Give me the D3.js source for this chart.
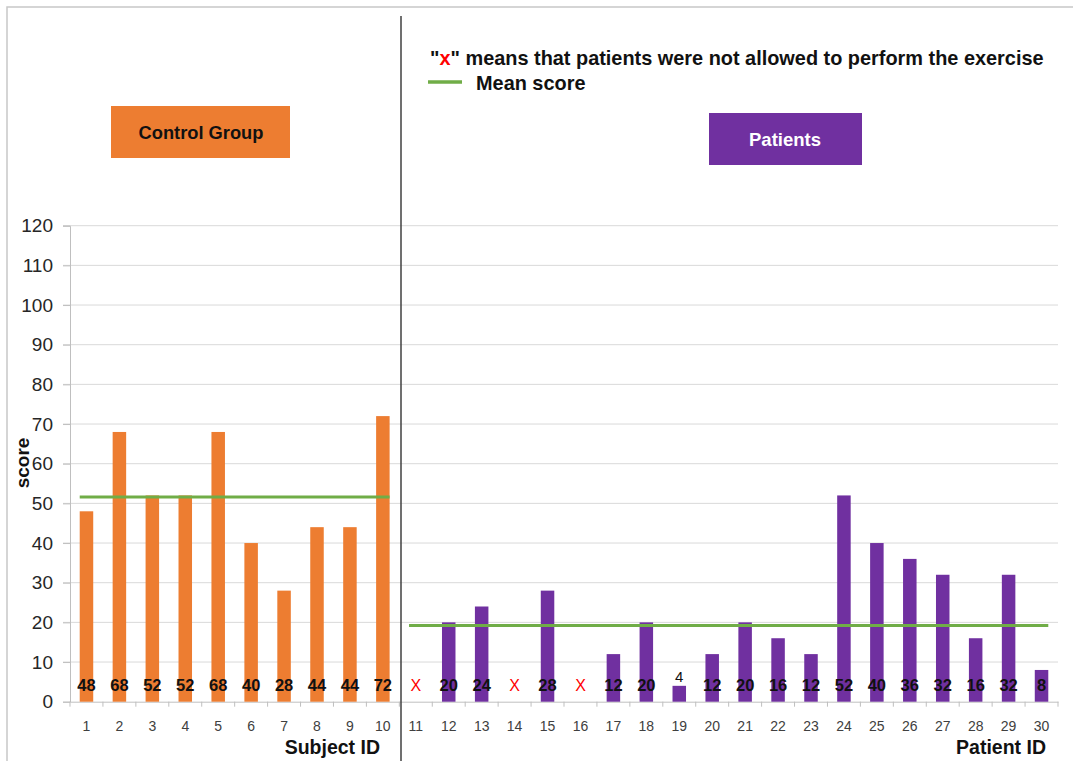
<!DOCTYPE html>
<html>
<head>
<meta charset="utf-8">
<script src="https://cdn.jsdelivr.net/npm/d3@7"></script>
<style>
  body { margin: 0; background: #fff; }
  svg { display: block; font-family: "Liberation Sans", Arial, sans-serif; }
</style>
</head>
<body>
<svg id="chart" width="1073" height="761"></svg>
<script>
// Scores per participant; null = exercise not performed ("x")
const controlIds = ["1","2","3","4","5","6","7","8","9","10"];
const controlScores = [48, 68, 52, 52, 68, 40, 28, 44, 44, 72];
const patientIds = ["11","12","13","14","15","16","17","18","19","20",
                    "21","22","23","24","25","26","27","28","29","30"];
const patientScores = [null, 20, 24, null, 28, null, 12, 20, 4, 12,
                       20, 16, 12, 52, 40, 36, 32, 16, 32, 8];
const controlMean = 51.6;
const patientMean = 19.2;
const yTicks = [0, 10, 20, 30, 40, 50, 60, 70, 80, 90, 100, 110, 120];

const ORANGE = "#ED7D31", PURPLE = "#7030A0", GREEN = "#70AD47";

const svg = d3.select("#chart");
const plot = { left: 70, right: 1058, top: 225.7, bottom: 701.7 };

const allIds = controlIds.concat(patientIds);
const x = d3.scaleBand().domain(allIds).range([plot.left, plot.right]).padding(0);
const y = d3.scaleLinear().domain([0, 120]).range([plot.bottom, plot.top]);
const barW = x.bandwidth() * 0.41;

// outer frame (top and left)
svg.append("path")
  .attr("d", "M7,761 V7 H1073")
  .attr("fill", "none").attr("stroke", "#c8c8c8").attr("stroke-width", 1.5);

// horizontal gridlines
svg.append("g").selectAll("line").data(yTicks.filter(d => d > 0)).join("line")
  .attr("x1", plot.left - 7).attr("x2", plot.right)
  .attr("y1", d => y(d)).attr("y2", d => y(d))
  .attr("stroke", "#d9d9d9").attr("stroke-width", 1);

// y axis
const yAxis = svg.append("g").attr("transform", `translate(${plot.left},0)`)
  .call(d3.axisLeft(y).tickValues(yTicks).tickSize(7).tickPadding(10));
yAxis.select(".domain").attr("stroke", "#bfbfbf");
yAxis.selectAll(".tick line").attr("stroke", "#bfbfbf");
yAxis.selectAll(".tick text").attr("font-size", 19).attr("fill", "#262626")
  .attr("font-family", "Liberation Sans, Arial, sans-serif");

// x axis with tick marks between categories
const xAxis = svg.append("g").attr("transform", `translate(0,${plot.bottom})`)
  .call(d3.axisBottom(x).tickSize(0).tickPadding(19));
xAxis.select(".domain").attr("stroke", "#bfbfbf");
xAxis.selectAll(".tick text").attr("font-size", 14).attr("fill", "#404040")
  .attr("font-family", "Liberation Sans, Arial, sans-serif");
xAxis.append("g").selectAll("line").data(allIds.concat(["end"])).join("line")
  .attr("x1", (d, i) => plot.left + i * x.step()).attr("x2", (d, i) => plot.left + i * x.step())
  .attr("y1", 0).attr("y2", 5).attr("stroke", "#bfbfbf");

// bars
const controlData = controlIds.map((id, i) => ({ id, v: controlScores[i] }));
const patientData = patientIds.map((id, i) => ({ id, v: patientScores[i] }));

function drawBars(data, color) {
  svg.append("g").selectAll("rect").data(data.filter(d => d.v !== null)).join("rect")
    .attr("x", d => x(d.id) + x.bandwidth() / 2 - barW / 2)
    .attr("width", barW)
    .attr("y", d => y(d.v))
    .attr("height", d => y(0) - y(d.v))
    .attr("fill", color);
}
drawBars(controlData, ORANGE);
drawBars(patientData, PURPLE);

// mean lines spanning each group
function meanLine(ids, m) {
  const x1 = x(ids[0]) + x.bandwidth() / 2 - barW / 2;
  const x2 = x(ids[ids.length - 1]) + x.bandwidth() / 2 + barW / 2;
  svg.append("line").attr("x1", x1).attr("x2", x2)
    .attr("y1", y(m)).attr("y2", y(m))
    .attr("stroke", GREEN).attr("stroke-width", 3);
}
meanLine(controlIds, controlMean);
meanLine(patientIds, patientMean);

// value labels
const labels = svg.append("g");
controlData.concat(patientData).forEach(d => {
  const cx = x(d.id) + x.bandwidth() / 2;
  if (d.v === null) {
    labels.append("text").attr("x", cx).attr("y", 691)
      .attr("text-anchor", "middle").attr("font-size", 16)
      .attr("fill", "#FF0000").text("X");
  } else if (y(0) - y(d.v) < 18) {
    labels.append("text").attr("x", cx).attr("y", y(d.v) - 4)
      .attr("text-anchor", "middle").attr("font-size", 15)
      .attr("fill", "#111").text(d.v);
  } else {
    labels.append("text").attr("x", cx).attr("y", 691)
      .attr("text-anchor", "middle").attr("font-size", 16.5).attr("font-weight", "bold")
      .attr("fill", "#111").text(d.v);
  }
});

// separator between groups
const sepX = 401;
svg.append("line").attr("x1", sepX).attr("x2", sepX).attr("y1", 16).attr("y2", 761)
  .attr("stroke", "#404040").attr("stroke-width", 1.5);

// axis titles
svg.append("text").attr("transform", "translate(29,463) rotate(-90)")
  .attr("text-anchor", "middle").attr("font-size", 19).attr("font-weight", "bold")
  .attr("fill", "#111").text("score");
svg.append("text").attr("x", 380).attr("y", 754).attr("text-anchor", "end")
  .attr("font-size", 19.5).attr("font-weight", "bold").attr("fill", "#111").text("Subject ID");
svg.append("text").attr("x", 1046).attr("y", 754).attr("text-anchor", "end")
  .attr("font-size", 19.5).attr("font-weight", "bold").attr("fill", "#111").text("Patient ID");

// group boxes
svg.append("rect").attr("x", 111).attr("y", 106).attr("width", 179).attr("height", 52).attr("fill", ORANGE);
svg.append("text").attr("x", 201).attr("y", 138.5).attr("text-anchor", "middle")
  .attr("font-size", 18.3).attr("font-weight", "bold").attr("fill", "#111").text("Control Group");
svg.append("rect").attr("x", 709).attr("y", 113).attr("width", 153).attr("height", 52).attr("fill", PURPLE);
svg.append("text").attr("x", 785).attr("y", 146).attr("text-anchor", "middle")
  .attr("font-size", 18.5).attr("font-weight", "bold").attr("fill", "#fff").text("Patients");

// legend
const note = svg.append("text").attr("x", 430).attr("y", 64.5)
  .attr("font-size", 19.9).attr("font-weight", "bold").attr("fill", "#111");
note.append("tspan").text("\"");
note.append("tspan").attr("fill", "#FF0000").text("x");
note.append("tspan").text("\" means that patients were not allowed to perform the exercise");
svg.append("line").attr("x1", 428).attr("x2", 462).attr("y1", 82).attr("y2", 82)
  .attr("stroke", GREEN).attr("stroke-width", 3.5);
svg.append("text").attr("x", 476).attr("y", 89.5)
  .attr("font-size", 19.9).attr("font-weight", "bold").attr("fill", "#111").text("Mean score");
</script>
</body>
</html>
